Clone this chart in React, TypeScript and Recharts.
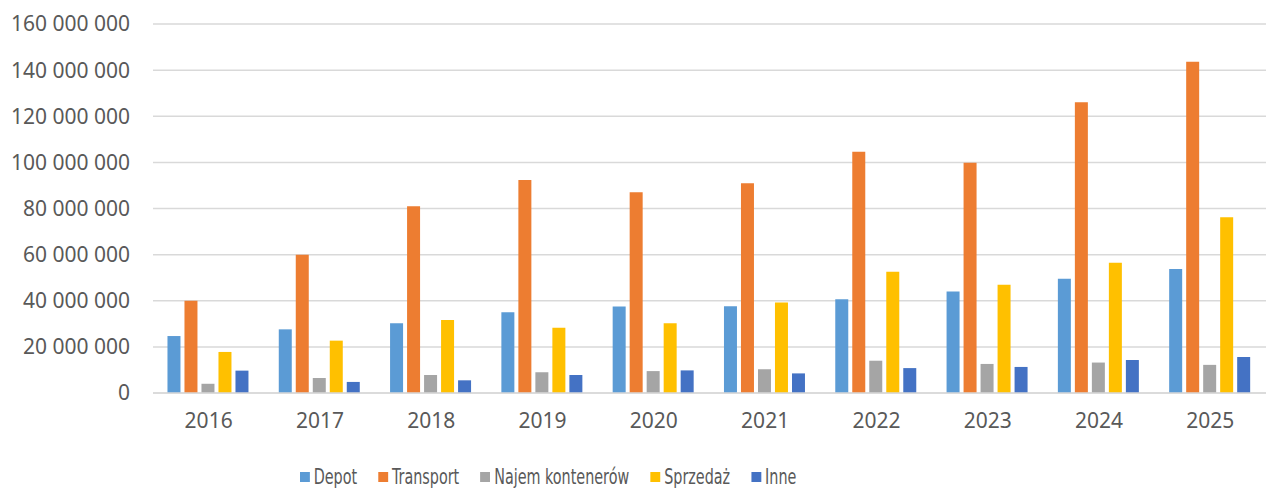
import React from "react";
import { BarChart, Bar, XAxis, YAxis, CartesianGrid } from "recharts";

const years = ["2016", "2017", "2018", "2019", "2020", "2021", "2022", "2023", "2024", "2025"];
const depot = [24.7, 27.6, 30.2, 35.0, 37.5, 37.6, 40.6, 44.0, 49.5, 53.8];
const transport = [40.0, 60.0, 81.0, 92.4, 87.1, 91.0, 104.6, 99.8, 126.1, 143.6];
const najem = [4.0, 6.5, 7.8, 9.0, 9.5, 10.3, 14.0, 12.6, 13.2, 12.2];
const sprzedaz = [17.8, 22.7, 31.7, 28.3, 30.2, 39.2, 52.6, 46.9, 56.5, 76.2];
const inne = [9.7, 4.8, 5.5, 7.8, 9.8, 8.5, 10.8, 11.3, 14.3, 15.6];
const yTicks = [0, 20, 40, 60, 80, 100, 120, 140, 160].map((v) => v * 1000000);

const series = [
  { key: "depot", name: "Depot", values: depot, color: "#5B9BD5" },
  { key: "transport", name: "Transport", values: transport, color: "#ED7D31" },
  { key: "najem", name: "Najem kontenerów", values: najem, color: "#A5A5A5" },
  { key: "sprzedaz", name: "Sprzedaż", values: sprzedaz, color: "#FFC000" },
  { key: "inne", name: "Inne", values: inne, color: "#4472C4" },
];

const data = years.map((year, i) => {
  const row: Record<string, string | number> = { year };
  series.forEach((s) => {
    row[s.key] = s.values[i] * 1000000;
  });
  return row;
});

const formatNumber = (v: number) =>
  String(Math.round(v)).replace(/\B(?=(\d{3})+(?!\d))/g, " ");

const textColor = "#595959";
const fontFamily = "'Noto Sans', sans-serif";

// legend sits under the chart, not inside recharts so it doesn't eat plot height.
// the reference uses a narrow font, so squeeze the whole row horizontally
const ChartLegend = () => (
  <div
    style={{
      position: "absolute",
      left: 300,
      top: 465,
      display: "flex",
      alignItems: "center",
      gap: 28,
      fontFamily: "'DejaVu Sans Condensed', sans-serif",
      fontSize: 21,
      lineHeight: "24px",
      color: textColor,
      whiteSpace: "nowrap",
      transform: "scaleX(0.76)",
      transformOrigin: "left center",
    }}
  >
    {series.map((s) => (
      <div key={s.key} style={{ display: "flex", alignItems: "center" }}>
        <span style={{ width: 13, height: 10, background: s.color, marginRight: 5 }} />
        <span>{s.name}</span>
      </div>
    ))}
  </div>
);

export default function App() {
  return (
    <div style={{ position: "absolute", left: 0, top: 0, width: 1266, height: 488, background: "#fff", overflow: "hidden" }}>
      <BarChart
        width={1266}
        height={488}
        data={data}
        margin={{ top: 24, right: 0, left: 0, bottom: 0 }}
        barCategoryGap="13%"
        barGap={4}
      >
        <CartesianGrid vertical={false} stroke="#D9D9D9" strokeWidth={1.5} />
        <XAxis
          dataKey="year"
          height={95}
          tickLine={false}
          axisLine={{ stroke: "#D9D9D9", strokeWidth: 1.5 }}
          tickMargin={14}
          tick={{ fill: textColor, fontSize: 21, fontFamily }}
        />
        <YAxis
          width={153}
          domain={[0, 160000000]}
          ticks={yTicks}
          interval={0}
          tickLine={false}
          axisLine={false}
          tickMargin={17}
          tickFormatter={formatNumber}
          tick={{ fill: textColor, fontSize: 21, fontFamily }}
        />
        {series.map((s) => (
          <Bar
            key={s.key}
            dataKey={s.key}
            name={s.name}
            fill={s.color}
            isAnimationActive={false}
          />
        ))}
      </BarChart>
      <ChartLegend />
    </div>
  );
}
